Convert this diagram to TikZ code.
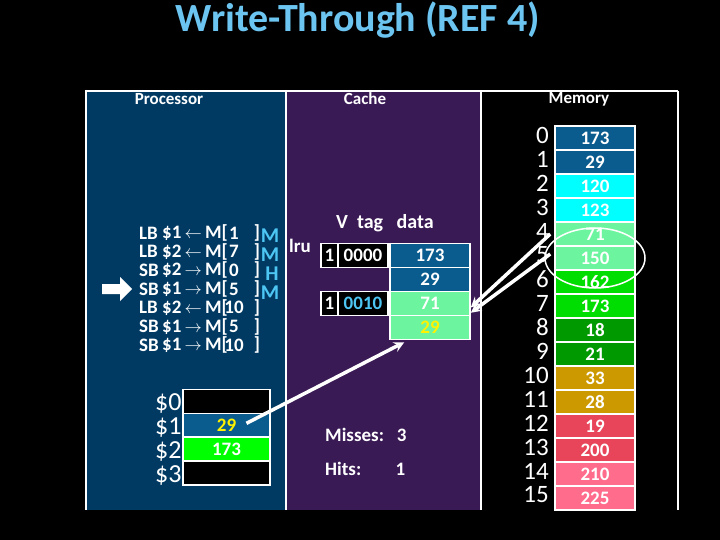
\documentclass[tikz,border=0pt]{standalone}
\usepackage{fontspec}
\setmainfont{Carlito}
\begin{document}
\begin{tikzpicture}[x=1pt,y=-1pt,
 txt/.style={text=white,font=\bfseries\fontsize{19}{20}\selectfont,inner sep=0},
 cell/.style={draw=white,line width=1.5pt,minimum width=80pt,minimum height=24pt,inner sep=0,text=white,font=\bfseries\fontsize{19}{20}\selectfont},
 idx/.style={text=white,font=\fontsize{25}{26}\selectfont,anchor=east,inner sep=0},
 wline/.style={white,line width=3.5pt},
 mk/.style={text=cyan!70!white,font=\bfseries\fontsize{21}{22}\selectfont,inner sep=0}]
\definecolor{pblue}{HTML}{003A63}
\definecolor{cpur}{HTML}{3A1A55}
\definecolor{dblue}{HTML}{0A5C8E}
\definecolor{lgreen}{HTML}{6CF59E}
\definecolor{tblue}{HTML}{6CC4F0}
\definecolor{cy}{HTML}{00FFFF}
\definecolor{mgreen}{HTML}{00DD00}
\definecolor{dgreen}{HTML}{009A00}
\definecolor{gold}{HTML}{CC9A00}
\definecolor{rpink}{HTML}{E8455A}
\definecolor{lpink}{HTML}{FF6C8C}
\fill[black] (0,0) rectangle (720,540);
\useasboundingbox (0,0) rectangle (720,540);
\node[text=tblue,font=\bfseries\fontsize{40}{42}\selectfont] (title) at (358,20) {Write-Through (REF 4)};
\fill[pblue] (87,90) rectangle (285,510);
\fill[cpur] (287,90) rectangle (480,510);
\draw[white,line width=1.5pt] (86,90) -- (86,510) (286,90)--(286,510) (481,90)--(481,510) (86,91)--(678,91) (678,91)--(678,510);
\node[txt,font=\bfseries\fontsize{17}{18}\selectfont] (ph) at (169,99) {Processor};
\node[txt,font=\bfseries\fontsize{17}{18}\selectfont] (ch) at (365,99) {Cache};
\node[txt,font=\bfseries\fontsize{17}{18}\selectfont] (mh) at (579,99) {Memory};
% instructions
\foreach \i/\op/\r/\ar/\a in {0/LB/1/\leftarrow/1,1/LB/2/\leftarrow/7,2/SB/2/\rightarrow/0,3/SB/1/\rightarrow/5,4/LB/2/\leftarrow/10,5/SB/1/\rightarrow/5,6/SB/1/\rightarrow/10}{
 \node[txt,anchor=west] (op\i) at (139,{233+18.7*\i}) {\op};
 \node[txt,anchor=west] (rg\i) at (162,{233+18.7*\i}) {\$\r\,$\ar$\,M[};
 \node[txt] (ad\i) at (234,{233+18.7*\i}) {\a};
 \node[txt] (br\i) at (257,{233+18.7*\i}) {]};
}
\node[mk] (m0) at (270,236) {M};
\node[mk] (m1) at (270,255) {M};
\node[mk] (m2) at (272,274) {H};
\node[mk] (m3) at (270,293) {M};
\fill[white] (102,284) -- (120,284) -- (120,277) -- (132,289) -- (120,301) -- (120,294) -- (102,294) -- cycle;
% registers
\foreach \i/\c in {0/black,1/dblue,2/green,3/black}{
 \node[cell,fill=\c,minimum width=87pt] (r\i) at (226.5,{401.5+23.8*\i}) {};
 \node[text=white,font=\fontsize{26}{27}\selectfont,anchor=west,inner sep=0] (rl\i) at (155,{404+23.8*\i}) {\$\i};
}
\node[text=yellow,font=\bfseries\fontsize{19}{20}\selectfont] (r1t) at (r1) {29};
\node[text=white,font=\bfseries\fontsize{19}{20}\selectfont] (r2t) at (r2) {173};
% cache
\node[txt,font=\bfseries\fontsize{20}{21}\selectfont] (vh) at (385,223) {V\ \ tag\ \ \ data};
\node[txt] (lru) at (300,246) {lru};
\foreach \i/\c/\t/\v in {0/dblue/white/173,1/dblue/white/29,2/lgreen/white/71,3/lgreen/yellow/29}{
 \node[cell,fill=\c,text=\t] (d\i) at (430,{255.5+24*\i}) {\v};
}
\node[cell,fill=black,minimum width=17pt] (v0) at (329.5,255.5) {1};
\node[cell,fill=black,minimum width=50pt] (t0) at (363,255.5) {0000};
\node[cell,fill=black,minimum width=17pt] (v1) at (329.5,303.5) {1};
\node[cell,fill=black,minimum width=50pt,text=cyan!70!white] (t1) at (363,303.5) {0010};
\node[txt,anchor=west] (mis) at (325,435) {Misses:\ \ \ 3};
\node[txt,anchor=west] (hit) at (325,469) {Hits:\ \ \ \ \ \ \ \ 1};
% memory
\foreach \i/\c/\v in {0/dblue/173,1/dblue/29,2/cy/120,3/cy/123,4/lgreen/71,5/lgreen/150,6/mgreen/162,7/mgreen/173,8/dgreen/18,9/dgreen/21,10/gold/33,11/gold/28,12/rpink/19,13/rpink/200,14/lpink/210,15/lpink/225}{
 \node[cell,minimum height=24pt,fill=\c] (mem\i) at (595,{138+24*\i}) {\v};
 \node[idx] (mi\i) at (549,{135+24*\i}) {\i};
}
\draw[white,line width=1.5pt] (595,258) ellipse (50pt and 30pt);
% connectors
\draw[wline,-stealth] ([xshift=20pt,yshift=2pt]r1.center) -- ([xshift=15pt,yshift=-2pt]d3.south west);
\draw[wline,-stealth] ([xshift=-4pt]mem4.west) -- ([yshift=-4pt]d2.east);
\draw[wline,-stealth] ([xshift=-4pt,yshift=4pt]mem5.west) -- ([yshift=2pt]d3.north east);
\end{tikzpicture}
\end{document}
